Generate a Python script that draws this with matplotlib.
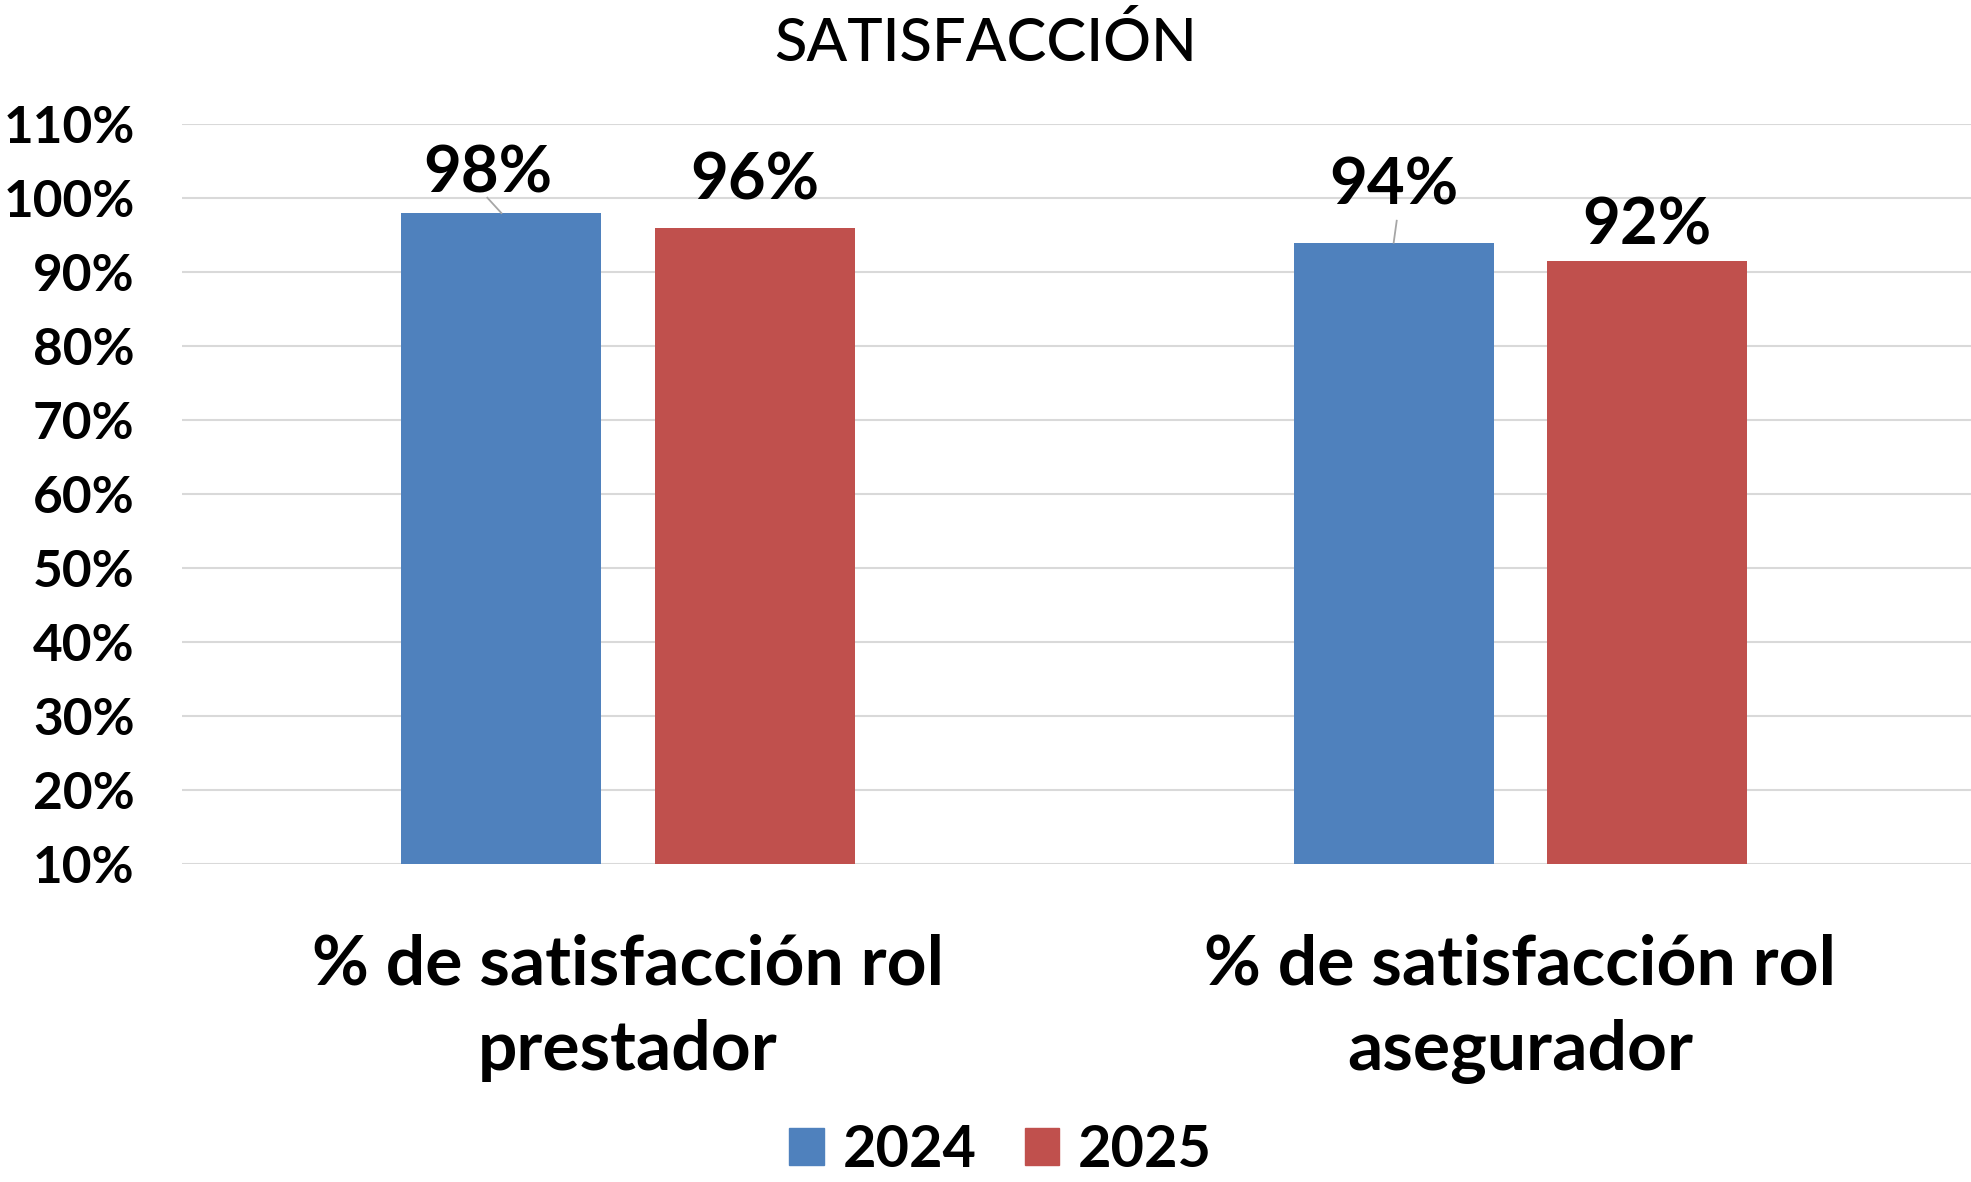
import matplotlib
matplotlib.use("Agg")
import matplotlib.pyplot as plt
import numpy as np
from matplotlib.patches import Patch

categories = ["% de satisfacción rol\nprestador", "% de satisfacción rol\nasegurador"]
series_names = ["2024", "2025"]
values_2024 = [0.98, 0.94]
values_2025 = [0.96, 0.915]
labels_2024 = ["98%", "94%"]
labels_2025 = ["96%", "92%"]
yticks = [0.10, 0.20, 0.30, 0.40, 0.50, 0.60, 0.70, 0.80, 0.90, 1.00, 1.10]

blue = "#4F81BD"
red = "#C0504D"
FONT = "Lato"

fig = plt.figure(figsize=(19.71, 11.82), dpi=100)
ax = fig.add_axes([0.0923, 0.2694, 0.9077, 0.6254])

x = np.arange(len(categories))
w = 0.224
off = 0.142
ax.bar(x - off, [v - 0.10 for v in values_2024], w, bottom=0.10, color=blue, zorder=3)
ax.bar(x + off, [v - 0.10 for v in values_2025], w, bottom=0.10, color=red, zorder=3)

ax.set_xlim(-0.5, 1.505)
ax.set_ylim(0.10, 1.10)
ax.set_yticks(yticks)
ax.set_yticklabels([f"{round(t*100)}%" for t in yticks], fontfamily=FONT, fontweight="bold", fontsize=37)
ax.set_xticks(x)
ax.set_xticklabels(categories, fontfamily=FONT, fontweight="bold", fontsize=50, linespacing=1.45)
ax.tick_params(axis="y", length=0, pad=34)
ax.tick_params(axis="x", length=0, pad=50)
ax.grid(axis="y", color="#D9D9D9", linewidth=1.5, zorder=0)
for s in ax.spines.values():
    s.set_visible(False)

# data labels: 2024 labels moved away from the bars with leader lines
lab_pos_2024 = [(-0.0157, 0.053), (0.0, 0.077)]
leader_start_2024 = [(-0.0157, 1.0007), (0.0034, 0.9696)]
for i, (v, t) in enumerate(zip(values_2024, labels_2024)):
    cx = x[i] - off
    ax.text(cx + lab_pos_2024[i][0], v + lab_pos_2024[i][1], t, ha="center", va="center",
            fontfamily=FONT, fontweight="bold", fontsize=47, zorder=4)
    ax.plot([cx + leader_start_2024[i][0], cx], [leader_start_2024[i][1], v],
            color="#A6A6A6", linewidth=1.3, zorder=4)
lab_pos_2025 = [0.064, 0.047]
for i, (v, t) in enumerate(zip(values_2025, labels_2025)):
    cx = x[i] + off
    ax.text(cx, v + lab_pos_2025[i], t, ha="center", va="center",
            fontfamily=FONT, fontweight="bold", fontsize=47, zorder=4)

fig.text(0.5, 0.964, "SATISFACCIÓN", ha="center", va="center", fontfamily=FONT,
         fontweight="medium", fontsize=43)

handles = [Patch(color=blue), Patch(color=red)]
fig.legend(handles, series_names, loc="center", bbox_to_anchor=(0.5076, 0.027), ncol=2, frameon=False,
           prop={"family": FONT, "weight": "bold", "size": 41.5}, handlelength=0.6, handleheight=0.6,
           handletextpad=0.32, columnspacing=0.84)

fig.savefig("out.png", dpi=100)
